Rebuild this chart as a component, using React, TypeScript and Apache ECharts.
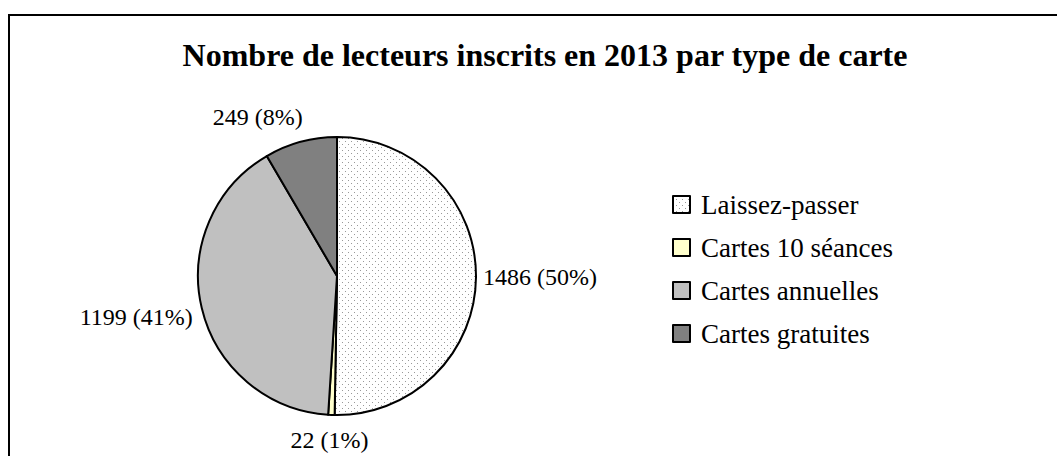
import React, { useEffect, useRef } from "react";
import * as echarts from "echarts";

const categories = ["Laissez-passer", "Cartes 10 séances", "Cartes annuelles", "Cartes gratuites"];
const values = [1486, 22, 1199, 249];
const colors = ["#ffffff", "#ffffcc", "#c0c0c0", "#808080"];
const title = "Nombre de lecteurs inscrits en 2013 par type de carte";
// small label nudges (dx, dy) relative to the library's outside-label placement
const labelOffsets: [number, number][] = [[2, 0], [42, 25], [-4, 9], [7, -25]];

function dotPattern(): string {
  const c = document.createElement("canvas");
  c.width = 6;
  c.height = 6;
  const ctx = c.getContext("2d")!;
  ctx.fillStyle = "#ffffff";
  ctx.fillRect(0, 0, 6, 6);
  ctx.fillStyle = "#999999";
  ctx.fillRect(0, 0, 1, 1);
  ctx.fillRect(3, 3, 1, 1);
  return c.toDataURL();
}

export default function App() {
  const ref = useRef<HTMLDivElement>(null);
  useEffect(() => {
    const chart = echarts.init(ref.current!, undefined, { renderer: "svg" });
    const pat = dotPattern();
    const font = "'Liberation Serif', serif";
    chart.setOption({
      animation: false,
      textStyle: { fontFamily: font },
      title: {
        text: title,
        left: 540,
        textAlign: "center",
        top: 34,
        textStyle: { fontFamily: font, fontSize: 32, fontWeight: "bold", color: "#000" },
      },
      graphic: [
        {
          type: "rect",
          shape: { x: 9, y: 15, width: 1100, height: 500 },
          style: { fill: "none", stroke: "#000", lineWidth: 2 },
        },
      ],
      legend: {
        orient: "vertical",
        left: 667,
        top: 186,
        itemGap: 16,
        itemWidth: 17,
        itemHeight: 17,
        icon: "rect",
        data: categories,
        textStyle: { fontFamily: font, fontSize: 27, color: "#000", padding: [0, 0, 0, 6] },
        itemStyle: { borderColor: "#000", borderWidth: 2 },
      },
      series: [
        {
          type: "pie",
          center: [337, 276],
          radius: 139,
          startAngle: 90,
          clockwise: true,
          percentPrecision: 0,
          avoidLabelOverlap: false,
          data: categories.map((name, i) => ({
            name,
            value: values[i],
            itemStyle: {
              color: i === 0 ? { image: pat, repeat: "repeat" } : colors[i],
            },
          })),
          itemStyle: { borderColor: "#000", borderWidth: 2 },
          label: {
            show: true,
            position: "outside",
            formatter: (p: any) => `${p.value} (${p.percent}%)`,
            fontFamily: font,
            fontSize: 24,
            color: "#000",
          },
          labelLine: { show: false, length: 0, length2: 0 },
          labelLayout: (p: any) => ({ dx: labelOffsets[p.dataIndex][0], dy: labelOffsets[p.dataIndex][1] }),
          emphasis: { disabled: true },
        },
      ],
    });
    return () => chart.dispose();
  }, []);
  return <div ref={ref} style={{ position: "fixed", left: 0, top: 0, width: 1057, height: 456, background: "#fff" }} />;
}
